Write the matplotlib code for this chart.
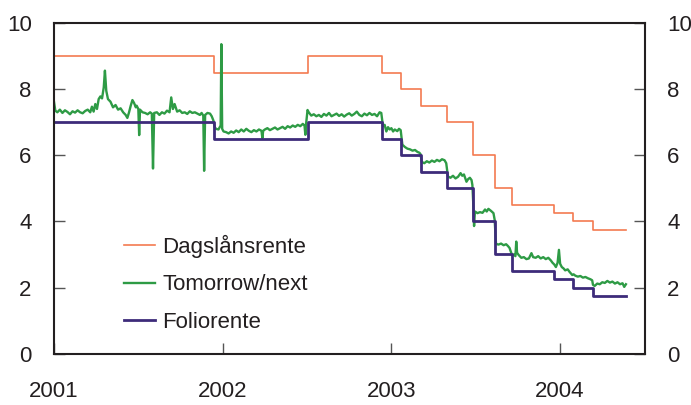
"""
Norwegian overnight rates 2001-2004: Dagslånsrente, Tomorrow/next, Foliorente.
"""

import matplotlib
matplotlib.use("Agg")
import matplotlib.pyplot as plt

# --------- data (x in decimal years) --------- #

# policy rate changes (step series)
folio_x = [2001.0, 2001.946, 2002.503, 2002.945, 2003.058, 2003.173, 2003.329,
           2003.482, 2003.616, 2003.712, 2003.962, 2004.075, 2004.192, 2004.39]
folio_y = [7.0, 6.5, 7.0, 6.5, 6.0, 5.5, 5.0, 4.0, 3.0, 2.5, 2.25, 2.0, 1.75, 1.75]

dagslan_x = folio_x
dagslan_y = [9.0, 8.5, 9.0, 8.5, 8.0, 7.5, 7.0, 6.0, 5.0, 4.5, 4.25, 4.0, 3.75, 3.75]

# tomorrow/next
tn_x = [
    2001.000, 2001.008, 2001.020, 2001.035, 2001.050, 2001.065, 2001.080, 2001.095,
    2001.110, 2001.125, 2001.140, 2001.155, 2001.170, 2001.185, 2001.200, 2001.215,
    2001.225, 2001.235, 2001.245, 2001.255, 2001.265, 2001.275, 2001.285, 2001.295,
    2001.302, 2001.310, 2001.320, 2001.335, 2001.350, 2001.365, 2001.380, 2001.395,
    2001.410, 2001.425, 2001.435, 2001.445, 2001.455, 2001.465, 2001.475, 2001.485,
    2001.490, 2001.500, 2001.505, 2001.510, 2001.525, 2001.540, 2001.555, 2001.570,
    2001.580, 2001.587, 2001.594, 2001.610, 2001.625, 2001.640, 2001.655, 2001.670,
    2001.685, 2001.695, 2001.705, 2001.715, 2001.730, 2001.745, 2001.760, 2001.775,
    2001.790, 2001.805, 2001.820, 2001.835, 2001.850, 2001.865, 2001.875, 2001.885,
    2001.890, 2001.896, 2001.910, 2001.925, 2001.935, 2001.945, 2001.952,
    2001.960, 2001.975, 2001.988, 2001.992, 2001.997,
    2002.005, 2002.020, 2002.035, 2002.050, 2002.065, 2002.080, 2002.095, 2002.110,
    2002.125, 2002.140, 2002.155, 2002.170, 2002.185, 2002.200, 2002.215, 2002.230,
    2002.235, 2002.240, 2002.250, 2002.265, 2002.280, 2002.295, 2002.310, 2002.325,
    2002.340, 2002.355, 2002.370, 2002.385, 2002.400, 2002.415, 2002.430, 2002.445,
    2002.460, 2002.475, 2002.485, 2002.490, 2002.495, 2002.503,
    2002.510, 2002.525, 2002.540, 2002.555, 2002.570, 2002.585, 2002.600, 2002.615,
    2002.630, 2002.645, 2002.660, 2002.675, 2002.690, 2002.705, 2002.720, 2002.735,
    2002.750, 2002.765, 2002.780, 2002.795, 2002.810, 2002.825, 2002.840, 2002.855,
    2002.870, 2002.885, 2002.900, 2002.915, 2002.930, 2002.940,
    2002.950, 2002.960, 2002.970, 2002.980, 2002.990, 2003.000, 2003.010, 2003.020,
    2003.035, 2003.045, 2003.055,
    2003.065, 2003.080, 2003.095, 2003.110, 2003.125, 2003.140, 2003.155, 2003.165,
    2003.172,
    2003.180, 2003.195, 2003.210, 2003.225, 2003.240, 2003.255, 2003.270, 2003.285,
    2003.300, 2003.315, 2003.325,
    2003.335, 2003.350, 2003.365, 2003.380, 2003.395, 2003.410, 2003.420, 2003.430,
    2003.445, 2003.455, 2003.465, 2003.475, 2003.480,
    2003.486, 2003.490, 2003.495, 2003.510, 2003.525, 2003.540, 2003.555, 2003.565,
    2003.575, 2003.590, 2003.605, 2003.612,
    2003.620, 2003.635, 2003.650, 2003.665, 2003.680, 2003.690, 2003.700, 2003.710,
    2003.715, 2003.725, 2003.735, 2003.740, 2003.745, 2003.755, 2003.770, 2003.785,
    2003.800, 2003.815, 2003.830, 2003.840, 2003.855, 2003.870, 2003.885, 2003.900,
    2003.915, 2003.930, 2003.945, 2003.955,
    2003.965, 2003.975, 2003.985, 2003.993, 2004.000, 2004.010, 2004.020, 2004.030,
    2004.045, 2004.055, 2004.065, 2004.072,
    2004.080, 2004.090, 2004.105, 2004.120, 2004.135, 2004.150, 2004.165, 2004.180,
    2004.190,
    2004.195, 2004.205, 2004.220, 2004.235, 2004.250, 2004.265, 2004.280, 2004.295,
    2004.310, 2004.325, 2004.340, 2004.355, 2004.370, 2004.380, 2004.390,
]
tn_y = [
    7.62, 7.35, 7.30, 7.38, 7.28, 7.36, 7.31, 7.24,
    7.33, 7.29, 7.36, 7.30, 7.27, 7.34, 7.38, 7.30,
    7.47, 7.32, 7.55, 7.40, 7.70, 7.78, 7.72, 8.05,
    8.56, 7.95, 7.70, 7.62, 7.45, 7.52, 7.38, 7.42,
    7.30, 7.22, 7.13, 7.30, 7.50, 7.67, 7.58, 7.45,
    7.50, 7.40, 6.61, 7.38, 7.30, 7.28, 7.24, 7.30,
    7.26, 5.60, 7.28, 7.30, 7.22, 7.30, 7.26, 7.35,
    7.30, 7.75, 7.40, 7.55, 7.32, 7.36, 7.28, 7.30,
    7.25, 7.33, 7.28, 7.30, 7.26, 7.22, 7.28, 7.20,
    5.53, 7.22, 7.28, 7.26, 7.18, 7.05, 6.86,
    6.80, 6.78, 6.90, 9.36, 6.80,
    6.72, 6.70, 6.66, 6.72, 6.68, 6.75, 6.70, 6.78,
    6.72, 6.80, 6.74, 6.70, 6.76, 6.72, 6.78, 6.74,
    6.52, 6.74, 6.78, 6.82, 6.76, 6.80, 6.84, 6.78,
    6.82, 6.86, 6.80, 6.88, 6.84, 6.90, 6.86, 6.92,
    6.88, 6.95, 6.90, 6.62, 6.98, 7.37,
    7.30, 7.20, 7.24, 7.18, 7.22, 7.16, 7.25, 7.20,
    7.28, 7.18, 7.22, 7.26, 7.19, 7.24, 7.17, 7.23,
    7.27, 7.20, 7.25, 7.32, 7.22, 7.18, 7.26, 7.21,
    7.28, 7.22, 7.25, 7.18, 7.30, 7.28,
    6.88, 6.92, 6.72, 6.85, 6.78, 6.82, 6.72, 6.78,
    6.73, 6.80, 6.76,
    6.32, 6.25, 6.20, 6.18, 6.14, 6.16, 6.10, 6.08,
    6.04,
    5.80, 5.76, 5.82, 5.78, 5.84, 5.80, 5.86, 5.82,
    5.88, 5.85, 5.76,
    5.36, 5.32, 5.38, 5.30, 5.35, 5.46, 5.38, 5.42,
    5.20, 5.28, 5.32, 5.25, 5.10,
    4.45, 3.86, 4.30, 4.25, 4.28, 4.26, 4.36, 4.30,
    4.38, 4.32, 4.25, 4.05,
    3.32, 3.30, 3.33, 3.28, 3.31, 3.26, 3.20, 3.05,
    2.98, 3.00, 2.95, 3.39, 3.05, 2.98, 2.90, 2.92,
    2.86, 2.88, 3.04, 2.92, 2.90, 2.95, 2.88, 2.92,
    2.86, 2.90, 2.82, 2.75,
    2.70, 2.62, 2.75, 3.14, 2.72, 2.62, 2.58, 2.52,
    2.55, 2.48, 2.42, 2.38,
    2.40, 2.36, 2.33, 2.35, 2.30, 2.32, 2.28, 2.25,
    2.22,
    2.08, 2.05, 2.12, 2.10, 2.16, 2.14, 2.20, 2.15,
    2.18, 2.12, 2.16, 2.10, 2.13, 2.02, 2.10,
]

year_ticks = [2001, 2002, 2003, 2004]
y_ticks = [0, 2, 4, 6, 8, 10]

# --------- plotting --------- #

plt.rcParams["font.family"] = ["Liberation Sans Narrow", "Liberation Sans", "DejaVu Sans"]
text_col = "#231f20"
fs = 16

fig = plt.figure(figsize=(6.91, 4.05), dpi=100)
ax = fig.add_axes([0.0781, 0.1267, 0.8553, 0.8165])

ax.plot(dagslan_x, dagslan_y, drawstyle="steps-post", color="#f47a50", lw=1.2,
        label="Dagslånsrente")
ax.plot(tn_x, tn_y, color="#2e9b45", lw=1.7, label="Tomorrow/next")
ax.plot(folio_x, folio_y, drawstyle="steps-post", color="#3d2b7a", lw=2.0,
        label="Foliorente")

ax.set_xlim(2001, 2004.503)
ax.set_ylim(0, 10)
ax.set_xticks(year_ticks)
ax.set_xticklabels([str(y) for y in year_ticks])
ax.set_yticks(y_ticks)

for side in ["left", "right", "top", "bottom"]:
    ax.spines[side].set_linewidth(1.5)
    ax.spines[side].set_color("#231f20")

ax.tick_params(axis="y", direction="in", length=8, width=1, color="#555555",
               left=True, right=True, labelleft=True, labelright=True,
               labelsize=fs, labelcolor=text_col, pad=16)
ax.tick_params(axis="x", direction="in", length=8, width=1, color="#555555",
               labelsize=fs, labelcolor=text_col, pad=20)

leg = ax.legend(loc="upper left", bbox_to_anchor=(0.103, 0.387), frameon=False,
                fontsize=fs, handlelength=1.4, handletextpad=0.35,
                labelspacing=0.75, borderaxespad=0)
for t in leg.get_texts():
    t.set_color(text_col)

fig.savefig("out.png", dpi=100)
